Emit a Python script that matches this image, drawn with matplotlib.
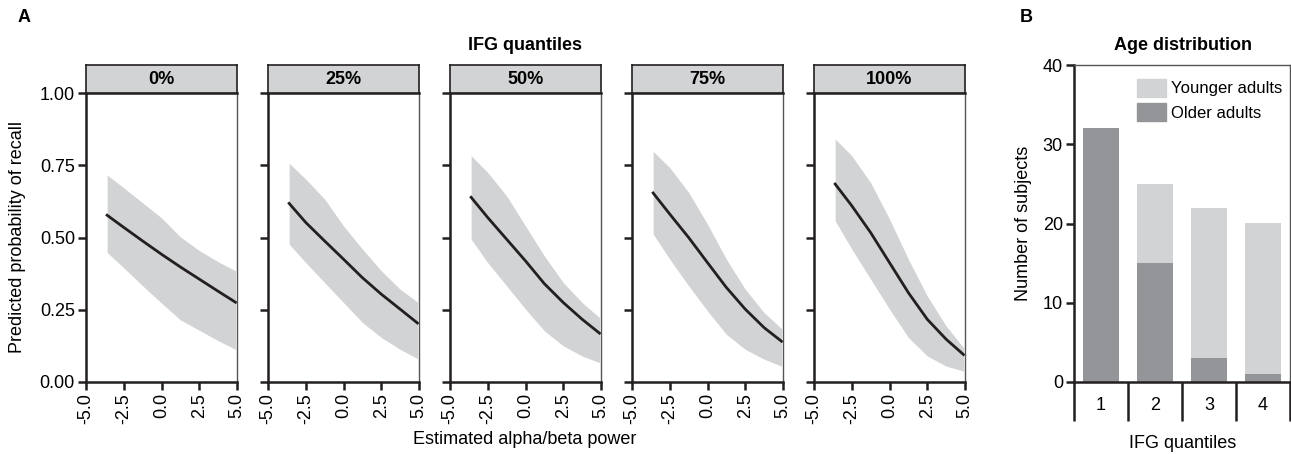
import matplotlib
matplotlib.use("Agg")
import matplotlib.pyplot as plt
from matplotlib.patches import Patch

plt.rcParams['font.family'] = ['Liberation Sans Narrow', 'Liberation Sans', 'DejaVu Sans']
plt.rcParams['font.size'] = 13

LIGHT = '#d1d3d4'
DARK = '#939598'
INK = '#231f20'

# panel A: predicted probability of recall per IFG quantile
x_pts = [-3.6, -2.5, -1.25, 0.0, 1.25, 2.5, 3.75, 4.9]
quantiles = ['0%', '25%', '50%', '75%', '100%']
fit = [
    [0.577, 0.535, 0.488, 0.442, 0.398, 0.356, 0.314, 0.276],
    [0.618, 0.552, 0.488, 0.425, 0.361, 0.304, 0.252, 0.204],
    [0.639, 0.569, 0.494, 0.419, 0.340, 0.275, 0.217, 0.169],
    [0.654, 0.581, 0.500, 0.413, 0.327, 0.252, 0.188, 0.141],
    [0.685, 0.610, 0.517, 0.413, 0.309, 0.217, 0.148, 0.095],
]
upper = [
    [0.716, 0.672, 0.620, 0.568, 0.502, 0.455, 0.416, 0.385],
    [0.757, 0.702, 0.633, 0.540, 0.460, 0.385, 0.321, 0.277],
    [0.783, 0.725, 0.644, 0.540, 0.436, 0.344, 0.275, 0.223],
    [0.798, 0.742, 0.656, 0.546, 0.425, 0.321, 0.240, 0.185],
    [0.841, 0.783, 0.690, 0.564, 0.425, 0.298, 0.194, 0.119],
]
lower = [
    [0.448, 0.395, 0.333, 0.273, 0.215, 0.179, 0.143, 0.113],
    [0.477, 0.413, 0.344, 0.275, 0.206, 0.154, 0.113, 0.081],
    [0.494, 0.413, 0.333, 0.252, 0.177, 0.125, 0.090, 0.067],
    [0.512, 0.425, 0.333, 0.246, 0.165, 0.113, 0.079, 0.055],
    [0.558, 0.460, 0.356, 0.252, 0.154, 0.090, 0.055, 0.038],
]
x_ticks = [-5.0, -2.5, 0.0, 2.5, 5.0]
y_ticks = [0.0, 0.25, 0.5, 0.75, 1.0]

# panel B: age distribution
groups = ['1', '2', '3', '4']
older = [32, 15, 3, 1]
younger = [0, 10, 19, 19]

W, H = 1291, 454
fig = plt.figure(figsize=(W / 100, H / 100), dpi=100)


def fx(px):
    return px / W


def fy(py):
    return 1 - py / H


lefts = [86, 268, 450, 632, 814]
pw = 151
top, bottom, strip_top = 93, 382, 65

for i, left in enumerate(lefts):
    ax = fig.add_axes([fx(left), fy(bottom), pw / W, (bottom - top) / H])
    ax.fill_between(x_pts, lower[i], upper[i], color=LIGHT, lw=0)
    ax.plot(x_pts, fit[i], color=INK, lw=2)
    ax.set_xlim(-5, 5)
    ax.set_ylim(0, 1)
    ax.set_xticks(x_ticks)
    ax.set_xticklabels([f'{t:.1f}' for t in x_ticks], rotation=90)
    ax.set_yticks(y_ticks)
    if i == 0:
        ax.set_yticklabels([f'{t:.2f}' for t in y_ticks])
    else:
        ax.set_yticklabels([])
    ax.tick_params(length=6, width=1.8, color=INK, pad=2)
    for s in ['left', 'bottom', 'top']:
        ax.spines[s].set_linewidth(1.8)
        ax.spines[s].set_color(INK)
    ax.spines['right'].set_linewidth(1.0)
    ax.spines['right'].set_color('#555555')

    # facet strip
    sax = fig.add_axes([fx(left), fy(top), pw / W, (top - strip_top) / H])
    sax.set_facecolor(LIGHT)
    sax.set_xticks([])
    sax.set_yticks([])
    for s in sax.spines.values():
        s.set_linewidth(1.2)
        s.set_color(INK)
    sax.text(0.5, 0.5, quantiles[i], ha='center', va='center', fontsize=13,
             fontweight='bold', transform=sax.transAxes)

fig.text(fx(18), fy(18), 'A', fontsize=13, fontweight='bold', ha='left', va='center')
fig.text(fx(525), fy(45), 'IFG quantiles', fontsize=13, fontweight='bold', ha='center', va='center')
fig.text(fx(525), fy(440), 'Estimated alpha/beta power', fontsize=13, ha='center', va='center')
fig.text(fx(18), fy(237), 'Predicted probability of recall', fontsize=13, rotation=90,
         ha='center', va='center')

# panel B
bx = fig.add_axes([fx(1074), fy(382), (1290 - 1074) / W, (382 - 65) / H])
pos = [1, 2, 3, 4]
bx.bar(pos, older, width=0.68, color=DARK, lw=0)
bx.bar(pos, younger, width=0.68, bottom=older, color=LIGHT, lw=0)
bx.set_xlim(0.5, 4.5)
bx.set_ylim(0, 40)
bx.set_yticks([0, 10, 20, 30, 40])
bx.set_xticks([0.5, 1.5, 2.5, 3.5, 4.5])
bx.set_xticklabels([])
bx.set_xticks(pos, minor=True)
bx.set_xticklabels(groups, minor=True)
bx.tick_params(axis='x', which='major', length=28, width=1.8, color=INK)
bx.tick_params(axis='x', which='minor', length=0, pad=11)
bx.tick_params(axis='y', length=6, width=1.8, color=INK, pad=2)
for s in ['left', 'bottom']:
    bx.spines[s].set_linewidth(1.8)
    bx.spines[s].set_color(INK)
for s in ['top', 'right']:
    bx.spines[s].set_linewidth(1.0)
    bx.spines[s].set_color('#555555')
bx.set_ylabel('Number of subjects', fontsize=13, labelpad=8)
bx.legend(handles=[Patch(color=LIGHT, label='Younger adults'), Patch(color=DARK, label='Older adults')],
          loc='upper left', bbox_to_anchor=(fx(1137), fy(79)), bbox_transform=fig.transFigure,
          frameon=False, borderpad=0, borderaxespad=0, handlelength=1.75, handleheight=1.25,
          handletextpad=0.3, labelspacing=0.4, fontsize=12)

fig.text(fx(1020), fy(18), 'B', fontsize=13, fontweight='bold', ha='left', va='center')
fig.text(fx(1183), fy(45), 'Age distribution', fontsize=13, fontweight='bold', ha='center', va='center')
fig.text(fx(1183), fy(443), 'IFG quantiles', fontsize=13, ha='center', va='center')

fig.savefig('out.png', dpi=100)
